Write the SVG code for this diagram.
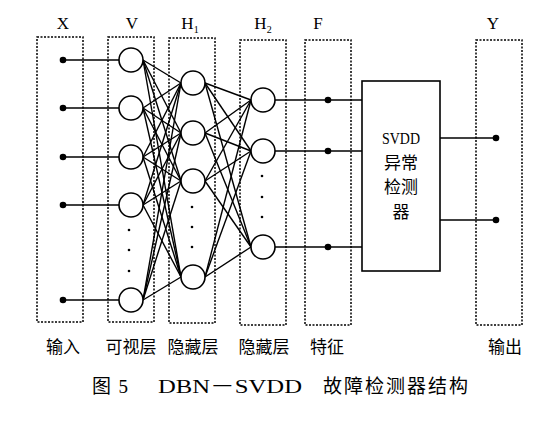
<svg xmlns="http://www.w3.org/2000/svg" width="549" height="422" viewBox="0 0 549 422">
<style>
.box{fill:none;stroke:#000;stroke-width:1.5;stroke-dasharray:2 1.5}
.nd{fill:#fff;stroke:#000;stroke-width:1.6}
.ln{stroke:#000;stroke-width:1.4;fill:none}
.dot{fill:#000}
.sd{fill:#000}
.lab{font-family:"Liberation Serif",serif;font-size:17px;text-anchor:middle}
.sub{font-family:"Liberation Serif",serif;font-size:10px}
.cn{font-family:"Noto Sans CJK SC",sans-serif;font-size:17px;text-anchor:middle}
.cap{font-family:"Liberation Serif","Noto Sans CJK SC",serif;font-size:19px}
</style>
<rect width="549" height="422" fill="#fff"/>
<g id="frames">
<rect class="box" x="37" y="37" width="46" height="285"/>
<rect class="box" x="108" y="37" width="46" height="285"/>
<rect class="box" x="169" y="38" width="46" height="285"/>
<rect class="box" x="240" y="40" width="46" height="285"/>
<rect class="box" x="305" y="40" width="46" height="285"/>
<rect class="box" x="476" y="40" width="46" height="285"/>
</g>
<g id="headers">
<text class="lab" x="63" y="29">X</text>
<text class="lab" x="132" y="29">V</text>
<text class="lab" x="190" y="29">H<tspan class="sub" dy="4">1</tspan></text>
<text class="lab" x="263" y="29">H<tspan class="sub" dy="4">2</tspan></text>
<text class="lab" x="318" y="29">F</text>
<text class="lab" x="493" y="29">Y</text>
</g>
<g id="connectors">
<line class="ln" x1="63" y1="60" x2="119" y2="60"/>
<line class="ln" x1="63" y1="108" x2="119" y2="108"/>
<line class="ln" x1="63" y1="157" x2="119" y2="157"/>
<line class="ln" x1="63" y1="205" x2="119" y2="205"/>
<line class="ln" x1="63" y1="300" x2="119" y2="300"/>
<g>
<line class="ln" x1="143" y1="60" x2="181" y2="83"/><line class="ln" x1="143" y1="60" x2="181" y2="133"/><line class="ln" x1="143" y1="60" x2="181" y2="181"/><line class="ln" x1="143" y1="60" x2="181" y2="277"/>
<line class="ln" x1="143" y1="108" x2="181" y2="83"/><line class="ln" x1="143" y1="108" x2="181" y2="133"/><line class="ln" x1="143" y1="108" x2="181" y2="181"/><line class="ln" x1="143" y1="108" x2="181" y2="277"/>
<line class="ln" x1="143" y1="157" x2="181" y2="83"/><line class="ln" x1="143" y1="157" x2="181" y2="133"/><line class="ln" x1="143" y1="157" x2="181" y2="181"/><line class="ln" x1="143" y1="157" x2="181" y2="277"/>
<line class="ln" x1="143" y1="205" x2="181" y2="83"/><line class="ln" x1="143" y1="205" x2="181" y2="133"/><line class="ln" x1="143" y1="205" x2="181" y2="181"/><line class="ln" x1="143" y1="205" x2="181" y2="277"/>
<line class="ln" x1="143" y1="300" x2="181" y2="83"/><line class="ln" x1="143" y1="300" x2="181" y2="133"/><line class="ln" x1="143" y1="300" x2="181" y2="181"/><line class="ln" x1="143" y1="300" x2="181" y2="277"/>
</g>
<g>
<line class="ln" x1="205" y1="83" x2="251" y2="100"/><line class="ln" x1="205" y1="83" x2="251" y2="151"/><line class="ln" x1="205" y1="83" x2="251" y2="247"/>
<line class="ln" x1="205" y1="133" x2="251" y2="100"/><line class="ln" x1="205" y1="133" x2="251" y2="151"/><line class="ln" x1="205" y1="133" x2="251" y2="247"/>
<line class="ln" x1="205" y1="181" x2="251" y2="100"/><line class="ln" x1="205" y1="181" x2="251" y2="151"/><line class="ln" x1="205" y1="181" x2="251" y2="247"/>
<line class="ln" x1="205" y1="277" x2="251" y2="100"/><line class="ln" x1="205" y1="277" x2="251" y2="151"/><line class="ln" x1="205" y1="277" x2="251" y2="247"/>
</g>
<line class="ln" x1="275" y1="100" x2="362" y2="100"/>
<line class="ln" x1="275" y1="151" x2="362" y2="151"/>
<line class="ln" x1="275" y1="247" x2="362" y2="247"/>
<line class="ln" x1="440" y1="138" x2="496" y2="138"/>
<line class="ln" x1="440" y1="220" x2="496" y2="220"/>
</g>
<g id="input">
<circle class="dot" cx="63" cy="60" r="3.3"/>
<circle class="dot" cx="63" cy="108" r="3.3"/>
<circle class="dot" cx="63" cy="157" r="3.3"/>
<circle class="dot" cx="63" cy="205" r="3.3"/>
<circle class="dot" cx="63" cy="300" r="3.3"/>
</g>
<g id="visible">
<circle class="nd" cx="131" cy="60" r="12"/>
<circle class="nd" cx="131" cy="108" r="12"/>
<circle class="nd" cx="131" cy="157" r="12"/>
<circle class="nd" cx="131" cy="205" r="12"/>
<circle class="nd" cx="131" cy="300" r="12"/>
<circle class="sd" cx="129" cy="230" r="1.3"/>
<circle class="sd" cx="129" cy="250" r="1.3"/>
<circle class="sd" cx="129" cy="271" r="1.3"/>
</g>
<g id="hidden1">
<circle class="nd" cx="193" cy="83" r="12"/>
<circle class="nd" cx="193" cy="133" r="12"/>
<circle class="nd" cx="193" cy="181" r="12"/>
<circle class="nd" cx="193" cy="277" r="12"/>
<circle class="sd" cx="192" cy="207" r="1.3"/>
<circle class="sd" cx="192" cy="227" r="1.3"/>
<circle class="sd" cx="192" cy="247" r="1.3"/>
</g>
<g id="hidden2">
<circle class="nd" cx="263" cy="100" r="12"/>
<circle class="nd" cx="263" cy="151" r="12"/>
<circle class="nd" cx="263" cy="247" r="12"/>
<circle class="sd" cx="262" cy="176" r="1.3"/>
<circle class="sd" cx="262" cy="197" r="1.3"/>
<circle class="sd" cx="262" cy="217" r="1.3"/>
</g>
<g id="feature">
<circle class="dot" cx="328" cy="100" r="3.3"/>
<circle class="dot" cx="328" cy="151" r="3.3"/>
<circle class="dot" cx="328" cy="247" r="3.3"/>
</g>
<g id="svdd">
<rect x="362" y="81" width="78" height="190" fill="#fff" stroke="#000" stroke-width="1.6"/>
<text class="lab" x="401" y="144" style="font-size:17px" textLength="38" lengthAdjust="spacingAndGlyphs">SVDD</text>
<text class="cn" x="401" y="169">异常</text>
<text class="cn" x="401" y="193">检测</text>
<text class="cn" x="401" y="218">器</text>
</g>
<g id="output">
<circle class="dot" cx="496" cy="138" r="3.3"/>
<circle class="dot" cx="496" cy="220" r="3.3"/>
</g>
<g id="bottom-labels">
<text class="cn" x="63" y="353">输入</text>
<text class="cn" x="131" y="353">可视层</text>
<text class="cn" x="193" y="353">隐藏层</text>
<text class="cn" x="264" y="353">隐藏层</text>
<text class="cn" x="327" y="353">特征</text>
<text class="cn" x="505" y="353">输出</text>
</g>
<g id="caption">
<text class="cap" x="92" y="393" textLength="36" lengthAdjust="spacing">图 5</text>
<text class="cap" x="158" y="393" textLength="144" lengthAdjust="spacingAndGlyphs">DBN－SVDD</text>
<text class="cap" x="323" y="393" textLength="145" lengthAdjust="spacing">故障检测器结构</text>
</g>
</svg>
